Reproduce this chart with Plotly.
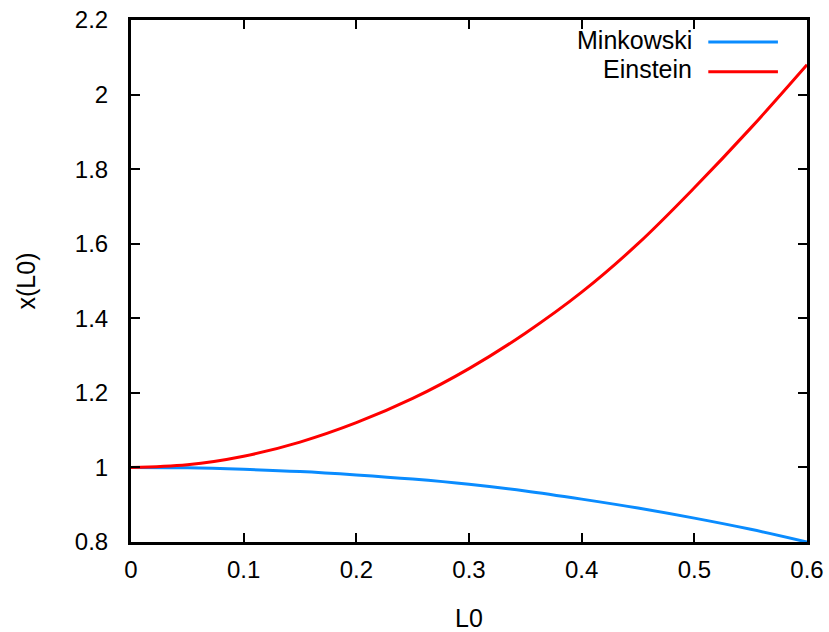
import plotly.graph_objects as go

L0 = [0.0, 0.05, 0.1, 0.15, 0.2, 0.25, 0.3, 0.35, 0.4, 0.45, 0.5, 0.55, 0.6]
minkowski = [1.0, 0.999, 0.995, 0.989, 0.98, 0.969, 0.955, 0.937, 0.915, 0.891, 0.864, 0.834, 0.80]
einstein = [1.0, 1.007, 1.03, 1.068, 1.12, 1.185, 1.265, 1.36, 1.47, 1.6, 1.75, 1.91, 2.08]

names = ["Minkowski", "Einstein"]
colors = ["#0A8CFF", "#FF0000"]

x_ticks = [0, 0.1, 0.2, 0.3, 0.4, 0.5, 0.6]
x_tick_text = ["0", "0.1", "0.2", "0.3", "0.4", "0.5", "0.6"]
y_ticks = [0.8, 1.0, 1.2, 1.4, 1.6, 1.8, 2.0, 2.2]
y_tick_text = ["0.8", "1", "1.2", "1.4", "1.6", "1.8", "2", "2.2"]

fig = go.Figure()
for name, ys, c in zip(names, [minkowski, einstein], colors):
    fig.add_trace(go.Scatter(x=L0, y=ys, mode="lines", name=name,
                             line=dict(color=c, width=3, shape="spline"),
                             showlegend=False))

font = dict(family="Liberation Sans, Arial, sans-serif", size=24, color="#000")
lfont = dict(family="Liberation Sans, Arial, sans-serif", size=25, color="#000")

# manual gnuplot-style legend (text right, sample line on right)
legend_text_y = [0.962, 0.906]
legend_line_y = [0.958, 0.901]
for name, c, ty, ly in zip(names, colors, legend_text_y, legend_line_y):
    fig.add_annotation(x=0.833, y=ty, xref="paper", yref="paper", text=name,
                       showarrow=False, xanchor="right", yanchor="middle", font=lfont)
    fig.add_shape(type="line", xref="paper", yref="paper", x0=0.854, x1=0.957, y0=ly, y1=ly,
                  line=dict(color=c, width=3))

fig.update_layout(
    width=829, height=632,
    margin=dict(l=131, r=22, t=20, b=90),
    paper_bgcolor="white", plot_bgcolor="white",
    font=font,
    xaxis=dict(range=[0, 0.6], tickvals=x_ticks, ticktext=x_tick_text, automargin=False,
               showgrid=False, zeroline=False, showline=True, linecolor="black", linewidth=3,
               mirror="ticks", ticks="inside", ticklen=9, tickwidth=2, tickcolor="black",
               ticklabelstandoff=4, ticklabeloverflow="allow",
               title=dict(text="L0", font=lfont, standoff=30)),
    yaxis=dict(range=[0.8, 2.2], tickvals=y_ticks, ticktext=y_tick_text, automargin=False,
               showgrid=False, zeroline=False, showline=True, linecolor="black", linewidth=3,
               mirror="ticks", ticks="inside", ticklen=9, tickwidth=2, tickcolor="black",
               ticklabelstandoff=15, ticklabeloverflow="allow",
               title=dict(text="x(L0)", font=lfont, standoff=33)),
)

fig.write_html("out.html", config={"displayModeBar": False},
               post_script="document.body.style.margin='0';document.body.style.overflow='hidden';")
